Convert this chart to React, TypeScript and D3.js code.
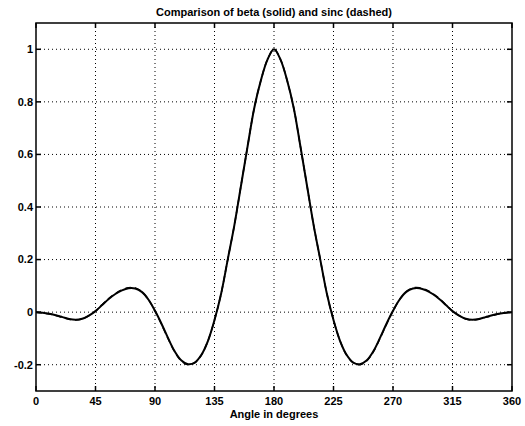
import React from "react";
import * as d3 from "d3";

const angles = [
  0, 5, 10, 15, 20, 25, 30, 35, 40, 45, 50, 55, 60, 65, 70, 75, 80, 85, 90,
  95, 100, 105, 110, 115, 120, 125, 130, 135, 140, 145, 150, 155, 160, 165, 170, 175, 180,
  185, 190, 195, 200, 205, 210, 215, 220, 225, 230, 235, 240, 245, 250, 255, 260, 265, 270,
  275, 280, 285, 290, 295, 300, 305, 310, 315, 320, 325, 330, 335, 340, 345, 350, 355, 360,
];

const beta = [
  0, -0.002, -0.006, -0.012, -0.019, -0.026, -0.029, -0.025, -0.013, 0.004, 0.027, 0.05, 0.069,
  0.083, 0.091, 0.09, 0.077, 0.048, 0.005, -0.045, -0.1, -0.15, -0.184, -0.198, -0.192, -0.163,
  -0.11, -0.03, 0.07, 0.2, 0.33, 0.48, 0.63, 0.775, 0.88, 0.96, 1.0,
  0.96, 0.88, 0.775, 0.63, 0.48, 0.33, 0.2, 0.07, -0.03, -0.11, -0.163, -0.192, -0.198, -0.184,
  -0.15, -0.1, -0.045, 0.005, 0.048, 0.077, 0.09, 0.091, 0.083, 0.069, 0.05, 0.027, 0.004,
  -0.013, -0.025, -0.029, -0.026, -0.019, -0.012, -0.006, -0.002, 0,
];

const sinc = [
  0, -0.003, -0.007, -0.013, -0.02, -0.027, -0.03, -0.026, -0.013, 0.004, 0.028, 0.052, 0.071,
  0.085, 0.093, 0.092, 0.078, 0.048, 0.004, -0.047, -0.102, -0.152, -0.186, -0.2, -0.193, -0.164,
  -0.11, -0.03, 0.07, 0.2, 0.33, 0.48, 0.63, 0.775, 0.88, 0.96, 1.0,
  0.96, 0.88, 0.775, 0.63, 0.48, 0.33, 0.2, 0.07, -0.03, -0.11, -0.164, -0.193, -0.2, -0.186,
  -0.152, -0.102, -0.047, 0.004, 0.048, 0.078, 0.092, 0.093, 0.085, 0.071, 0.052, 0.028, 0.004,
  -0.013, -0.026, -0.03, -0.027, -0.02, -0.013, -0.007, -0.003, 0,
];

const xTicks = [0, 45, 90, 135, 180, 225, 270, 315, 360];
const yTicks = [-0.2, 0, 0.2, 0.4, 0.6, 0.8, 1];
const yTickLabels = ["-0.2", "0", "0.2", "0.4", "0.6", "0.8", "1"];

const titleText = "Comparison of beta (solid) and sinc (dashed)";
const xLabelText = "Angle in degrees";

export default function App() {
  const W = 525;
  const H = 426;
  const left = 36;
  const right = 512;
  const top = 23;
  const bottom = 391;

  const x = d3.scaleLinear().domain([0, 360]).range([left, right]);
  const y = d3.scaleLinear().domain([-0.3, 1.1]).range([bottom, top]);

  const line = d3
    .line<number>()
    .x((_, i) => x(angles[i]))
    .y((d) => y(d))
    .curve(d3.curveCatmullRom.alpha(0.5));

  const font = "'Liberation Sans', Arial, Helvetica, sans-serif";
  const tickLen = 5;

  return (
    <svg
      width={W}
      height={H}
      style={{ position: "absolute", left: 0, top: 0, background: "#fff" }}
      fontFamily={font}
    >
      <rect x={0} y={0} width={W} height={H} fill="#fff" />
      {xTicks.slice(1, -1).map((t) => (
        <line
          key={"gx" + t}
          x1={x(t)}
          x2={x(t)}
          y1={top}
          y2={bottom}
          stroke="#000"
          strokeWidth={1}
          strokeDasharray="1,3"
        />
      ))}
      {yTicks.map((t) => (
        <line
          key={"gy" + t}
          x1={left}
          x2={right}
          y1={y(t)}
          y2={y(t)}
          stroke="#000"
          strokeWidth={1}
          strokeDasharray="1,3"
        />
      ))}
      <path d={line(sinc) || ""} fill="none" stroke="#000" strokeWidth={1.5} strokeDasharray="6,4" />
      <path d={line(beta) || ""} fill="none" stroke="#000" strokeWidth={2} />
      {xTicks.map((t) => (
        <g key={"tx" + t}>
          <line x1={x(t)} x2={x(t)} y1={bottom} y2={bottom - tickLen} stroke="#000" strokeWidth={1.5} />
          <line x1={x(t)} x2={x(t)} y1={top} y2={top + tickLen} stroke="#000" strokeWidth={1.5} />
          <text x={x(t)} y={405} textAnchor="middle" fontSize={11} fontWeight="bold">
            {t}
          </text>
        </g>
      ))}
      {yTicks.map((t, i) => (
        <g key={"ty" + t}>
          <line x1={left} x2={left + tickLen} y1={y(t)} y2={y(t)} stroke="#000" strokeWidth={1.5} />
          <line x1={right} x2={right - tickLen} y1={y(t)} y2={y(t)} stroke="#000" strokeWidth={1.5} />
          <text x={33} y={y(t)} dy="0.35em" textAnchor="end" fontSize={11} fontWeight="bold">
            {yTickLabels[i]}
          </text>
        </g>
      ))}
      <rect
        x={left}
        y={top}
        width={right - left}
        height={bottom - top}
        fill="none"
        stroke="#000"
        strokeWidth={1.5}
      />
      <text x={(left + right) / 2} y={16} textAnchor="middle" fontSize={11} fontWeight="bold">
        {titleText}
      </text>
      <text x={(left + right) / 2} y={418} textAnchor="middle" fontSize={11} fontWeight="bold">
        {xLabelText}
      </text>
    </svg>
  );
}
